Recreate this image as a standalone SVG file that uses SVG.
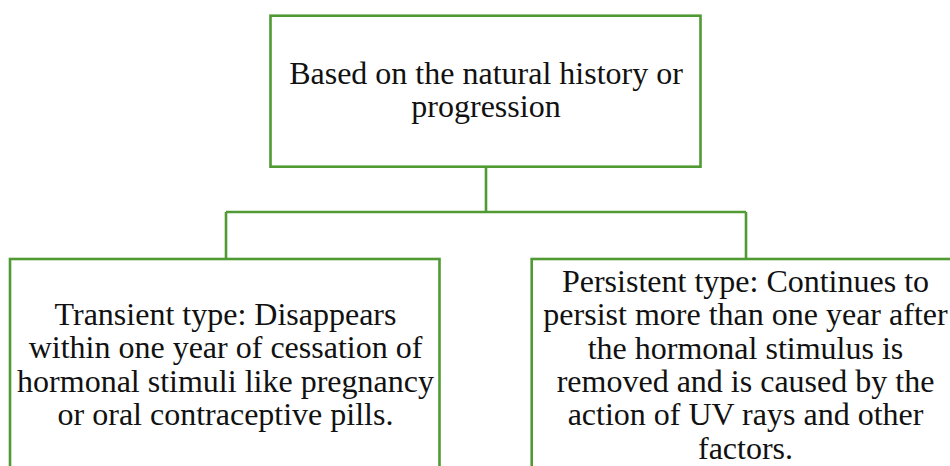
<svg xmlns="http://www.w3.org/2000/svg" width="950" height="466" viewBox="0 0 950 466">
<style>
.box{fill:#ffffff;stroke:#4f9a33;stroke-width:2.6}
.conn{fill:none;stroke:#4f9a33;stroke-width:2.6}
.t{font-family:"Liberation Serif","Times New Roman",serif;font-size:32px;fill:#111111;text-anchor:middle}
</style>
<rect width="950" height="466" fill="#ffffff"/>
<g id="connectors">
<path class="conn" d="M486 167 V212 M226 212 H746 M226 212 V259 M746 212 V259"/>
</g>
<g id="root">
<rect class="box" x="270.5" y="15.7" width="430" height="151"/>
<text class="t" x="486" y="83.5">Based on the natural history or</text>
<text class="t" x="486" y="116.5">progression</text>
</g>
<g id="transient">
<rect class="box" x="10" y="259" width="429.5" height="230"/>
<text class="t" x="225.5" y="325">Transient type: Disappears</text>
<text class="t" x="225.5" y="358.3">within one year of cessation of</text>
<text class="t" x="225.5" y="391.7">hormonal stimuli like pregnancy</text>
<text class="t" x="225.5" y="425">or oral contraceptive pills.</text>
</g>
<g id="persistent">
<rect class="box" x="531.7" y="259" width="440" height="230"/>
<text class="t" x="745.5" y="292">Persistent type: Continues to</text>
<text class="t" x="745.5" y="325">persist more than one year after</text>
<text class="t" x="745.5" y="358.5">the hormonal stimulus is</text>
<text class="t" x="745.5" y="392">removed and is caused by the</text>
<text class="t" x="745.5" y="425">action of UV rays and other</text>
<text class="t" x="745.5" y="458.5">factors.</text>
</g>
</svg>
